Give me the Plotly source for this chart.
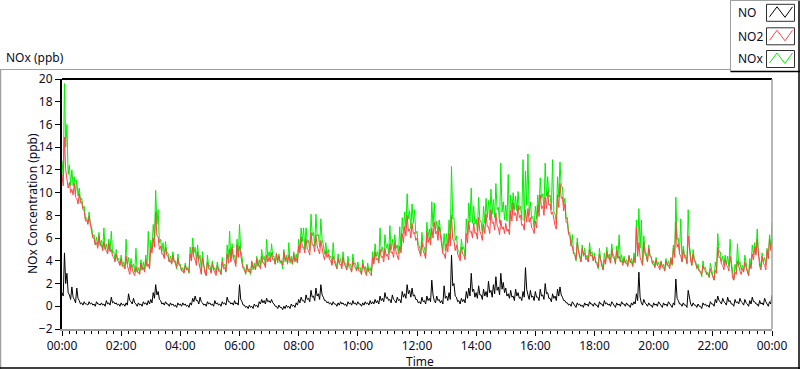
import plotly.graph_objects as go
import pandas as pd

# ---------------- data ----------------
# Main readings every 5 minutes (00:00 .. 24:00) and the in-between readings
# (2.5 minutes later) that give the trace its jagged band.
START = "2024-01-01 00:00"

no_ppb = [
    1.2, 4.7, 2.9, 1.0, 1.7, 0.6, 1.6, 0.5, 0.3, 0.4, 0.2, 0.4,
    0.3, 0.2, 0.4, 0.2, 0.3, 0.2, 0.5, 0.3, 0.8, 0.4, 0.3, 0.2,
    0.3, 0.2, 0.3, 1.1, 0.4, 0.7, 0.2, 0.3, 0.2, 0.4, 0.3, 0.5,
    0.6, 1.2, 1.9, 1.3, 0.5, 0.3, 0.4, 0.2, 0.3, 0.2, 0.1, 0.3,
    0.2, 0.3, 0.2, 0.1, 0.3, 0.7, 0.9, 0.5, 0.8, 0.3, 0.2, 0.4,
    0.3, 0.2, 0.5, 0.3, 0.2, 0.4, 0.3, 0.8, 0.4, 0.3, 0.5, 0.3,
    1.9, 0.4, 0.1, 0.0, 0.1, 0.0, 0.2, 0.1, 0.4, 0.6, 0.5, 0.7,
    0.5, 0.6, 0.2, 0.0, 0.1, -0.1, 0.0, 0.1, 0.0, 0.2, 0.1, 0.3,
    0.6, 0.8, 0.5, 1.0, 0.7, 1.4, 0.9, 1.6, 1.1, 1.9, 0.8, 0.5,
    0.4, 0.3, 0.4, 0.2, 0.3, 0.4, 0.3, 0.2, 0.4, 0.3, 0.5, 0.3,
    0.4, 0.2, 0.3, 0.4, 0.3, 0.5, 0.4, 0.6, 0.5, 0.9, 0.7, 1.2,
    0.8, 0.6, 1.0, 0.5, 0.8, 0.6, 1.3, 1.1, 1.9, 1.4, 1.6, 1.0,
    0.6, 0.4, 0.8, 0.5, 0.9, 0.7, 2.3, 0.5, 0.9, 0.6, 0.5, 1.8,
    0.9, 1.2, 4.5, 2.0, 0.8, 0.5, 0.7, 0.6, 1.3, 1.6, 2.9, 1.5,
    1.2, 1.8, 1.0, 1.5, 1.3, 2.2, 1.4, 1.9, 2.6, 1.7, 2.9, 2.1,
    1.6, 1.1, 1.4, 0.9, 1.5, 1.2, 0.8, 1.3, 3.4, 1.0, 1.4, 0.9,
    1.3, 0.8, 1.5, 1.0, 2.0, 1.2, 0.7, 1.1, 0.9, 1.5, 1.7, 0.8,
    0.5, 0.3, 0.2, 0.4, 0.1, 0.3, 0.2, 0.1, 0.3, 0.2, 0.4, 0.2,
    0.3, 0.1, 0.4, 0.2, 0.5, 0.3, 0.2, 0.4, 0.1, 0.3, 0.2, 0.4,
    0.2, 0.3, 0.1, 0.3, 0.4, 1.1, 3.0, 0.3, 0.6, 0.2, 0.3, 0.1,
    0.3, 0.2, 0.4, 0.1, 0.3, 0.2, 0.4, 0.1, 0.3, 2.4, 0.5, 0.2,
    0.3, 0.1, 1.4, 0.2, 0.3, 0.1, 0.2, 0.0, 0.3, 0.2, 0.1, 0.4,
    0.2, 0.6, 0.9, 0.4, 0.7, 0.3, 0.8, 0.5, 0.2, 0.6, 0.4, 0.7,
    0.3, 0.6, 0.2, 0.5, 0.8, 0.4, 0.2, 0.5, 0.3, 0.7, 0.2, 0.4,
    1.0,
]

no_mid_ppb = [
    0.9, 2.0, 1.2, 0.6, 0.8, 0.3, 0.7, 0.2, 0.1, 0.2, 0.1, 0.2,
    0.1, 0.0, 0.2, 0.1, 0.1, 0.0, 0.2, 0.1, 0.3, 0.2, 0.1, 0.0,
    0.1, 0.0, 0.1, 0.5, 0.2, 0.3, 0.0, 0.1, 0.0, 0.2, 0.1, 0.2,
    0.3, 0.7, 1.0, 0.6, 0.2, 0.1, 0.2, 0.0, 0.1, 0.0, -0.1, 0.1,
    0.0, 0.1, 0.0, -0.1, 0.1, 0.4, 0.5, 0.2, 0.4, 0.1, 0.0, 0.2,
    0.1, 0.0, 0.2, 0.1, 0.0, 0.2, 0.1, 0.4, 0.2, 0.1, 0.2, 0.1,
    0.6, 0.1, -0.1, -0.2, -0.1, -0.2, 0.0, -0.1, 0.2, 0.3, 0.2, 0.4,
    0.3, 0.3, 0.0, -0.2, -0.1, -0.3, -0.2, -0.1, -0.2, 0.0, -0.1, 0.1,
    0.3, 0.5, 0.3, 0.6, 0.4, 0.8, 0.5, 0.9, 0.6, 1.0, 0.5, 0.3,
    0.2, 0.1, 0.2, 0.0, 0.1, 0.2, 0.1, 0.0, 0.2, 0.1, 0.2, 0.1,
    0.2, 0.0, 0.1, 0.2, 0.1, 0.2, 0.2, 0.3, 0.2, 0.5, 0.4, 0.7,
    0.5, 0.3, 0.6, 0.3, 0.5, 0.3, 0.8, 0.7, 1.1, 0.8, 0.9, 0.6,
    0.3, 0.2, 0.4, 0.2, 0.5, 0.4, 1.0, 0.3, 0.5, 0.3, 0.2, 0.7,
    0.5, 0.6, 1.8, 0.9, 0.4, 0.2, 0.4, 0.3, 0.7, 0.9, 1.3, 0.8,
    0.7, 1.0, 0.6, 0.9, 0.8, 1.2, 0.8, 1.1, 1.4, 1.0, 1.5, 1.2,
    0.9, 0.7, 0.8, 0.5, 0.9, 0.7, 0.5, 0.8, 1.5, 0.6, 0.8, 0.5,
    0.8, 0.5, 0.9, 0.6, 1.1, 0.7, 0.4, 0.7, 0.5, 0.9, 1.0, 0.5,
    0.3, 0.1, 0.0, 0.2, -0.1, 0.1, 0.0, -0.1, 0.1, 0.0, 0.2, 0.0,
    0.1, -0.1, 0.2, 0.0, 0.2, 0.1, 0.0, 0.2, -0.1, 0.1, 0.0, 0.2,
    0.0, 0.1, -0.1, 0.1, 0.2, 0.5, 0.8, 0.1, 0.3, 0.0, 0.1, -0.1,
    0.1, 0.0, 0.2, -0.1, 0.1, 0.0, 0.2, -0.1, 0.1, 0.7, 0.2, 0.0,
    0.1, -0.1, 0.6, 0.0, 0.1, -0.1, 0.0, -0.2, 0.1, 0.0, -0.1, 0.2,
    0.0, 0.3, 0.5, 0.2, 0.4, 0.1, 0.4, 0.2, 0.0, 0.3, 0.2, 0.4,
    0.1, 0.3, 0.0, 0.2, 0.4, 0.2, 0.0, 0.2, 0.1, 0.4, 0.0, 0.2,
]

no2_ppb = [
    11.6, 14.9, 11.2, 10.9, 10.3, 10.8, 9.5, 9.9, 9.2, 8.4, 7.6, 7.9,
    6.6, 6.0, 5.6, 6.2, 5.4, 5.7, 4.9, 5.5, 5.0, 4.3, 4.6, 3.9,
    4.2, 3.6, 4.4, 3.1, 3.7, 2.9, 3.5, 3.0, 3.8, 3.4, 4.1, 3.7,
    5.2, 6.0, 8.3, 6.1, 5.3, 4.6, 5.2, 4.4, 4.0, 4.5, 3.8, 4.2,
    3.5, 3.1, 3.6, 3.3, 4.6, 5.2, 4.1, 4.8, 3.2, 4.3, 2.9, 3.9,
    3.3, 3.8, 2.9, 3.6, 3.1, 3.9, 3.4, 4.6, 5.0, 5.2, 4.0, 5.4,
    5.3, 3.8, 3.2, 3.6, 3.1, 3.9, 3.5, 4.2, 3.6, 4.4, 3.8, 4.5,
    4.3, 4.7, 4.1, 4.6, 4.4, 4.0, 4.8, 4.3, 4.5, 4.1, 4.6, 4.2,
    5.3, 6.1, 5.2, 5.9, 4.9, 6.5, 5.4, 6.3, 5.0, 5.8, 4.5, 4.9,
    4.6, 4.0, 4.4, 3.6, 4.2, 3.7, 4.3, 3.5, 3.9, 3.3, 4.0, 3.4,
    3.5, 3.1, 3.7, 3.0, 3.4, 2.9, 4.3, 4.8, 4.2, 5.0, 4.4, 5.1,
    4.6, 5.5, 4.8, 5.6, 4.5, 5.3, 6.4, 7.0, 8.0, 6.8, 7.3, 6.5,
    6.0, 4.8, 5.7, 4.6, 6.5, 6.1, 6.9, 7.4, 6.6, 7.0, 5.2, 4.6,
    5.5, 6.4, 8.0, 5.8, 5.4, 4.3, 5.2, 4.5, 6.4, 7.5, 6.6, 7.3,
    6.5, 7.8, 6.3, 7.2, 8.1, 7.0, 8.5, 7.4, 8.2, 6.9, 7.6, 7.0,
    7.3, 6.8, 8.4, 9.1, 8.2, 8.9, 8.0, 7.2, 8.5, 8.6, 7.8, 6.8,
    7.5, 8.9, 9.8, 8.8, 9.6, 10.1, 9.0, 8.3, 7.1, 9.8, 10.8, 9.6,
    9.0, 7.4, 6.2, 5.3, 4.5, 5.6, 4.3, 5.1, 4.7, 4.2, 5.0, 4.5,
    4.4, 3.7, 4.6, 3.5, 4.1, 4.8, 4.3, 5.0, 4.2, 4.9, 4.4, 4.0,
    4.2, 3.8, 4.4, 3.9, 4.3, 6.9, 5.6, 4.0, 5.6, 4.4, 5.1, 4.3,
    3.7, 4.1, 3.5, 3.9, 3.4, 4.0, 3.6, 4.2, 5.1, 7.4, 5.5, 4.4,
    5.0, 4.3, 6.2, 4.0, 4.6, 3.8, 3.4, 3.0, 3.6, 3.1, 2.8, 3.3,
    2.5, 3.2, 5.2, 4.3, 3.6, 4.1, 3.5, 4.4, 2.5, 3.0, 4.0, 3.1,
    3.3, 3.9, 2.9, 3.7, 4.6, 5.2, 5.9, 3.5, 4.4, 3.6, 4.9, 5.9,
    6.0,
]

no2_mid_ppb = [
    10.6, 12.0, 10.4, 10.0, 9.8, 9.6, 9.0, 9.1, 8.5, 7.5, 7.2, 7.0,
    6.0, 5.4, 5.1, 5.3, 4.9, 5.0, 4.6, 4.8, 4.4, 3.9, 4.0, 3.6,
    3.5, 3.3, 3.6, 2.8, 3.2, 2.7, 3.0, 2.8, 3.2, 3.0, 3.5, 3.3,
    4.7, 5.2, 6.2, 5.0, 4.6, 4.2, 4.5, 3.9, 3.7, 3.9, 3.4, 3.6,
    3.1, 2.9, 3.2, 3.0, 4.0, 4.3, 3.6, 3.9, 2.8, 3.5, 2.7, 3.3,
    2.9, 3.2, 2.7, 3.1, 2.8, 3.3, 3.0, 3.8, 3.9, 4.2, 3.5, 4.3,
    4.3, 3.3, 2.9, 3.2, 2.9, 3.4, 3.2, 3.6, 3.3, 3.8, 3.4, 3.9,
    3.9, 4.1, 3.7, 4.0, 3.9, 3.6, 4.1, 3.8, 4.0, 3.7, 4.0, 3.8,
    4.7, 5.2, 4.7, 5.0, 4.5, 5.4, 4.8, 5.3, 4.6, 4.9, 4.1, 4.3,
    4.1, 3.6, 3.9, 3.3, 3.7, 3.3, 3.7, 3.2, 3.4, 3.0, 3.5, 3.1,
    3.1, 2.8, 3.2, 2.7, 3.0, 2.7, 3.7, 4.1, 3.8, 4.3, 3.9, 4.4,
    4.1, 4.7, 4.3, 4.8, 4.1, 4.7, 5.6, 6.2, 6.6, 6.0, 6.4, 5.8,
    5.1, 4.4, 4.9, 4.2, 5.6, 5.4, 6.0, 6.4, 5.8, 6.1, 4.6, 4.2,
    4.8, 5.3, 5.9, 4.9, 4.6, 4.0, 4.6, 4.1, 5.6, 6.5, 6.0, 6.4,
    5.9, 6.6, 5.8, 6.4, 7.0, 6.4, 7.3, 6.7, 7.1, 6.3, 6.8, 6.4,
    6.6, 6.3, 7.5, 8.0, 7.5, 7.8, 7.1, 6.7, 7.4, 7.4, 6.9, 6.4,
    6.9, 7.9, 8.6, 8.0, 8.6, 8.9, 8.1, 7.6, 6.8, 8.7, 9.5, 8.4,
    7.4, 6.3, 5.3, 4.6, 4.1, 4.8, 3.9, 4.5, 4.1, 3.9, 4.4, 4.0,
    3.8, 3.4, 3.9, 3.2, 3.7, 4.2, 3.8, 4.3, 3.8, 4.2, 3.9, 3.6,
    3.8, 3.5, 3.9, 3.5, 3.8, 4.4, 4.3, 3.6, 4.6, 3.9, 4.4, 3.8,
    3.4, 3.6, 3.2, 3.5, 3.1, 3.6, 3.3, 3.7, 4.3, 5.2, 4.6, 3.9,
    4.3, 3.8, 4.8, 3.6, 4.0, 3.4, 3.1, 2.8, 3.2, 2.8, 2.6, 2.9,
    2.3, 2.9, 4.3, 3.7, 3.2, 3.6, 3.1, 3.7, 2.3, 2.8, 3.4, 2.8,
    3.0, 3.4, 2.7, 3.3, 4.1, 4.5, 4.6, 3.2, 3.8, 3.2, 4.2, 4.9,
]

nox_ppb = [
    12.8, 19.6, 16.0, 12.4, 12.0, 11.4, 11.1, 10.4, 9.5, 8.8, 7.8, 8.3,
    7.0, 6.3, 6.1, 6.5, 5.8, 6.9, 5.5, 5.9, 6.6, 4.8, 5.0, 4.2,
    4.5, 3.9, 5.9, 4.3, 4.2, 3.7, 5.1, 3.4, 4.1, 3.9, 4.5, 6.6,
    5.8, 7.2, 10.2, 8.5, 5.9, 5.6, 5.7, 4.7, 4.4, 4.8, 4.0, 4.6,
    3.7, 3.4, 3.8, 3.4, 5.2, 6.0, 5.2, 5.4, 4.5, 4.8, 3.2, 4.5,
    3.6, 4.0, 3.4, 3.9, 3.3, 4.3, 3.7, 5.4, 6.6, 5.5, 4.5, 5.9,
    7.2, 4.4, 3.4, 3.7, 3.3, 4.0, 3.8, 4.4, 4.1, 5.0, 4.4, 5.9,
    4.8, 5.5, 4.4, 4.7, 4.6, 4.0, 5.0, 4.5, 5.6, 4.4, 4.8, 4.6,
    5.9, 6.9, 6.9, 6.9, 5.8, 8.1, 6.5, 8.1, 6.3, 7.7, 5.4, 5.6,
    5.0, 4.4, 5.6, 3.9, 4.6, 4.2, 4.8, 3.8, 4.4, 3.7, 4.6, 3.8,
    3.9, 3.4, 4.1, 3.5, 3.8, 3.4, 4.8, 5.5, 4.8, 6.9, 5.2, 6.3,
    5.5, 7.1, 5.9, 6.3, 5.4, 7.0, 7.8, 8.3, 9.9, 8.4, 9.0, 8.5,
    6.6, 5.3, 6.5, 5.2, 7.4, 6.8, 9.2, 9.1, 7.5, 7.6, 5.8, 6.4,
    6.4, 7.6, 12.3, 7.8, 6.2, 4.9, 5.9, 5.2, 7.7, 9.1, 10.4, 8.8,
    7.7, 9.6, 7.4, 8.8, 9.5, 9.3, 10.3, 9.4, 10.8, 8.7, 12.6, 9.2,
    8.9, 11.6, 9.8, 10.0, 9.7, 10.1, 8.8, 12.9, 11.9, 13.4, 9.2, 7.9,
    8.8, 9.8, 11.3, 9.9, 12.6, 11.4, 9.8, 12.9, 8.1, 11.4, 12.7, 10.5,
    9.5, 7.8, 6.5, 6.3, 4.7, 6.0, 4.6, 5.4, 5.1, 4.5, 5.6, 4.8,
    4.7, 3.9, 5.1, 3.8, 4.7, 5.2, 4.6, 5.5, 4.4, 5.3, 6.3, 4.5,
    4.4, 4.1, 4.5, 4.2, 4.7, 7.6, 8.6, 7.6, 6.2, 4.6, 5.4, 4.4,
    4.0, 4.3, 3.9, 4.0, 3.7, 4.2, 4.0, 4.3, 5.4, 9.6, 6.0, 7.7,
    5.3, 4.5, 8.5, 4.3, 5.0, 4.0, 3.7, 3.1, 4.0, 3.4, 3.0, 3.8,
    2.7, 3.9, 6.4, 4.8, 4.4, 4.5, 4.4, 5.9, 2.8, 3.7, 5.5, 3.9,
    3.6, 4.5, 3.1, 4.2, 5.4, 5.6, 6.8, 4.0, 4.7, 4.3, 5.1, 6.3,
    7.4,
]

nox_mid_ppb = [
    11.5, 14.0, 11.6, 10.6, 10.6, 9.9, 9.7, 9.3, 8.6, 7.7, 7.3, 7.2,
    6.1, 5.4, 5.3, 5.4, 5.0, 5.0, 4.8, 4.9, 4.7, 4.1, 4.1, 3.6,
    3.6, 3.3, 3.7, 3.3, 3.4, 3.0, 3.0, 2.9, 3.2, 3.2, 3.6, 3.5,
    5.0, 5.9, 7.2, 5.6, 4.8, 4.3, 4.7, 3.9, 3.8, 3.9, 3.3, 3.7,
    3.1, 3.0, 3.2, 2.9, 4.1, 4.7, 4.1, 4.1, 3.2, 3.6, 2.7, 3.5,
    3.0, 3.2, 2.9, 3.2, 2.8, 3.5, 3.1, 4.2, 4.1, 4.3, 3.7, 4.4,
    4.9, 3.4, 2.8, 3.0, 2.8, 3.2, 3.2, 3.5, 3.5, 4.1, 3.6, 4.3,
    4.2, 4.4, 3.7, 3.8, 3.8, 3.3, 3.9, 3.7, 3.8, 3.7, 3.9, 3.9,
    5.0, 5.7, 5.0, 5.6, 4.9, 6.2, 5.3, 6.2, 5.2, 5.9, 4.6, 4.6,
    4.3, 3.7, 4.1, 3.3, 3.8, 3.5, 3.8, 3.2, 3.6, 3.1, 3.7, 3.2,
    3.3, 2.8, 3.3, 2.9, 3.1, 2.9, 3.9, 4.4, 4.0, 4.8, 4.3, 5.1,
    4.6, 5.0, 4.9, 5.1, 4.6, 5.0, 6.4, 6.9, 7.7, 6.8, 7.3, 6.4,
    5.4, 4.6, 5.3, 4.4, 6.1, 5.8, 7.0, 6.7, 6.3, 6.4, 4.8, 4.9,
    5.3, 5.9, 7.7, 5.8, 5.0, 4.2, 5.0, 4.4, 6.3, 7.4, 7.3, 7.2,
    6.6, 7.6, 6.4, 7.3, 7.8, 7.6, 8.1, 7.8, 8.5, 7.3, 8.3, 7.6,
    7.5, 7.0, 8.3, 8.5, 8.4, 8.5, 7.6, 7.5, 8.9, 8.0, 7.7, 6.9,
    7.7, 8.4, 9.5, 8.6, 9.7, 9.6, 8.5, 8.3, 7.3, 9.6, 10.5, 8.9,
    7.7, 6.4, 5.3, 4.8, 4.0, 4.9, 3.9, 4.4, 4.2, 3.9, 4.6, 4.0,
    3.9, 3.3, 4.1, 3.2, 3.9, 4.3, 3.8, 4.5, 3.7, 4.3, 3.9, 3.8,
    3.8, 3.6, 3.8, 3.6, 4.0, 4.9, 5.1, 3.7, 4.9, 3.9, 4.5, 3.7,
    3.5, 3.6, 3.4, 3.4, 3.2, 3.6, 3.5, 3.6, 4.4, 5.9, 4.8, 3.9,
    4.4, 3.7, 5.4, 3.6, 4.1, 3.3, 3.1, 2.6, 3.3, 2.8, 2.5, 3.1,
    2.3, 3.2, 4.8, 3.9, 3.6, 3.7, 3.5, 3.9, 2.3, 3.1, 3.6, 3.2,
    3.1, 3.7, 2.7, 3.5, 4.5, 4.7, 4.6, 3.4, 3.9, 3.6, 4.2, 5.1,
]

series_names = ["NO", "NO2", "NOx"]
y_ticks = list(range(-2, 21, 2))

# ---------------- styling ----------------
W, H = 800, 369
L, R, T, B = 62, 772, 79, 329
FONT = "Noto Sans"
TXT = "#0b0b2a"
C_NO, C_NO2, C_NOX = "#000000", "#ff4444", "#00f000"
GRAY = "#a0a0a0"

t_main = pd.date_range(START, periods=len(no_ppb), freq="5min")
t_mid = pd.date_range(pd.Timestamp(START) + pd.Timedelta(seconds=150),
                      periods=len(no_mid_ppb), freq="5min")


def merged(main_vals, mid_vals):
    df = pd.concat([
        pd.DataFrame({"t": t_main, "v": main_vals}),
        pd.DataFrame({"t": t_mid, "v": mid_vals}),
    ]).sort_values("t")
    return df["t"], df["v"]


def px(x):
    return (x - L) / (R - L)


def py(y):
    return (B - y) / (B - T)


fig = go.Figure()
for name, main_vals, mid_vals, col in [
    ("NOx", nox_ppb, nox_mid_ppb, C_NOX),
    ("NO2", no2_ppb, no2_mid_ppb, C_NO2),
    ("NO", no_ppb, no_mid_ppb, C_NO),
]:
    tx, vy = merged(main_vals, mid_vals)
    fig.add_trace(go.Scatter(x=tx, y=vy, mode="lines", name=name,
                             line=dict(color=col, width=1)))

shapes = []


def line(x0, y0, x1, y1, color, width=1):
    shapes.append(dict(type="line", xref="paper", yref="paper",
                       x0=px(x0), y0=py(y0), x1=px(x1), y1=py(y1),
                       line=dict(color=color, width=width), layer="above"))


# plot frame: top black, right gray
line(L, T, R, T, "#000000", 2)
line(R, T, R, B, GRAY, 1.5)
# outer frame
line(0, 69.5, 730.5, 69.5, GRAY, 1)
line(0.5, 69.5, 0.5, 369, GRAY, 1.5)
line(0, 368, 800, 368, "#000000", 1.5)
line(799, 0, 799, 369, "#000000", 1.5)
# legend box
line(730.5, 0, 730.5, 71.5, GRAY, 1)
line(730.5, 0.5, 800, 0.5, GRAY, 1)
line(730.5, 71.5, 800, 71.5, "#000000", 1.5)

legend_rows = [(12.8, C_NO), (36.3, C_NO2), (59.0, C_NOX)]
annotations = []
for name, (yc, col) in zip(series_names, legend_rows):
    annotations.append(dict(text=name, x=px(736), y=py(yc), xref="paper", yref="paper",
                            xanchor="left", yanchor="middle", showarrow=False,
                            font=dict(family=FONT, size=12, color=TXT)))
    bx0, bx1 = 766.5, 794.5
    by0, by1 = yc - 8.5, yc + 8.5
    shapes.append(dict(type="rect", xref="paper", yref="paper",
                       x0=px(bx0), x1=px(bx1), y0=py(by1), y1=py(by0),
                       line=dict(color="#303030", width=1), fillcolor="white"))
    pts = [(769.5, yc + 4), (777, yc - 6), (785, yc + 4.5), (792.5, yc - 6)]
    path = "M " + " L ".join(f"{px(a):.5f},{py(b):.5f}" for a, b in pts)
    shapes.append(dict(type="path", xref="paper", yref="paper", path=path,
                       line=dict(color=col, width=1)))

annotations.append(dict(text="NOx (ppb)", x=px(4), y=py(58), xref="paper", yref="paper",
                        xanchor="left", yanchor="middle", showarrow=False,
                        font=dict(family=FONT, size=12, color=TXT)))
annotations.append(dict(text="Time", x=px(420), y=py(361.5), xref="paper", yref="paper",
                        xanchor="center", yanchor="middle", showarrow=False,
                        font=dict(family=FONT, size=12, color=TXT)))
annotations.append(dict(text="NOx Concentration (ppb)", x=px(32), y=py(204),
                        xref="paper", yref="paper", textangle=-90,
                        xanchor="center", yanchor="middle", showarrow=False,
                        font=dict(family=FONT, size=12, color=TXT)))

fig.update_layout(
    width=W, height=H,
    margin=dict(l=L, r=W - R, t=T, b=H - B, pad=0),
    paper_bgcolor="white", plot_bgcolor="white",
    showlegend=False,
    font=dict(family=FONT, size=12, color=TXT),
    shapes=shapes, annotations=annotations,
    xaxis=dict(
        range=[t_main[0], t_main[-1]], type="date",
        tickformat="%H:%M", dtick=2 * 3600 * 1000, tick0=START,
        ticks="outside", ticklen=5, tickcolor="#000000", tickwidth=1,
        minor=dict(ticks="outside", ticklen=3, dtick=15 * 60 * 1000,
                   tickcolor="#000000", tickwidth=1, showgrid=False),
        showline=True, linecolor=GRAY, linewidth=1.5,
        showgrid=False, zeroline=False,
        tickfont=dict(family=FONT, size=12, color=TXT),
        automargin=False,
    ),
    yaxis=dict(
        range=[-2, 20], tickvals=y_ticks,
        ticks="outside", ticklen=5, tickcolor="#000000", tickwidth=1,
        showline=True, linecolor="#000000", linewidth=2,
        showgrid=False, zeroline=False,
        tickfont=dict(family=FONT, size=12, color=TXT),
        automargin=False,
    ),
)

fig.write_html("out.html", config={"displayModeBar": False},
               post_script="document.body.style.margin='0px';")
